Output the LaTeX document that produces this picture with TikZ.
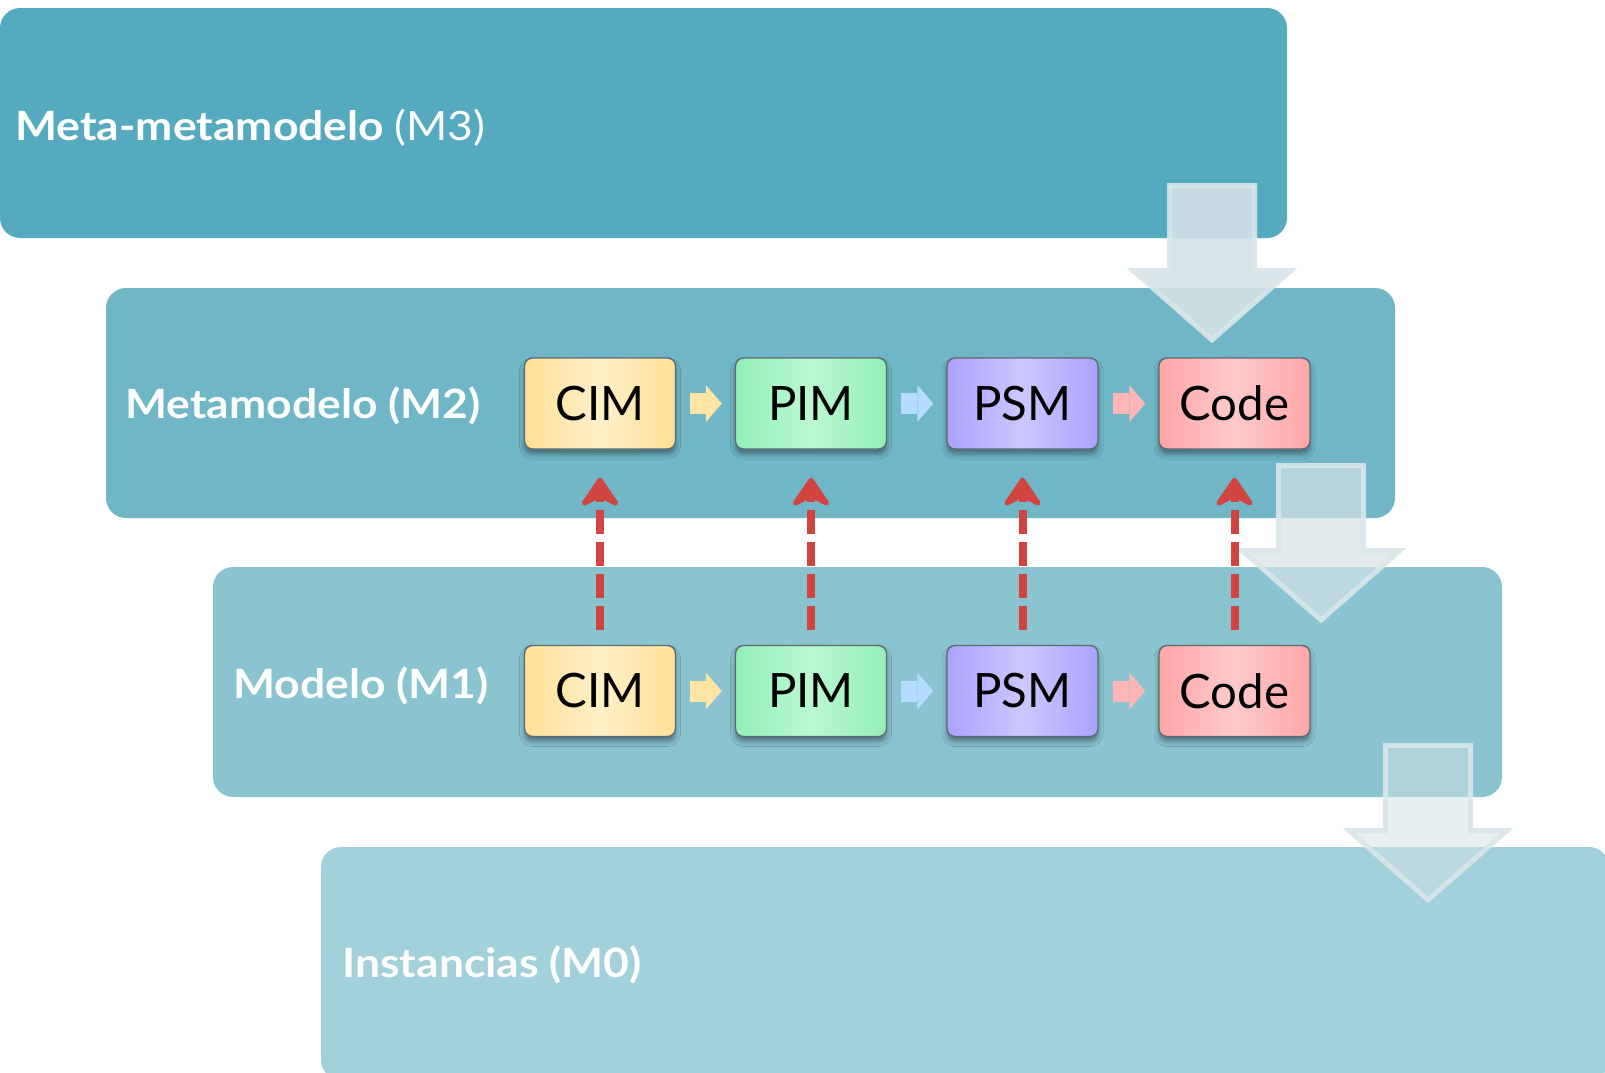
\documentclass[tikz,border=0pt]{standalone}
\usepackage{fontspec}
\setmainfont{Lato}
\newfontfamily\layerfont[FakeStretch=1.1]{Lato}
\usetikzlibrary{arrows.meta,shadows.blur}

% layer bands
\definecolor{m3}{HTML}{56AABF}
\definecolor{m2}{HTML}{6FB6C6}
\definecolor{m1}{HTML}{89C4D0}
\definecolor{m0}{HTML}{A2D0DB}
% instantiation arrows between layers
\definecolor{bigfill}{HTML}{D4E2E6}
\definecolor{bigedge}{HTML}{DAE6E9}
% model boxes
\definecolor{boxline}{HTML}{5E6A70}
\definecolor{cimE}{HTML}{FFE196}
\definecolor{cimC}{HTML}{FFF0C8}
\definecolor{pimE}{HTML}{93EFB6}
\definecolor{pimC}{HTML}{BAF9D1}
\definecolor{psmE}{HTML}{ACA2FF}
\definecolor{psmC}{HTML}{CDC7FF}
\definecolor{codeE}{HTML}{FFA6A6}
\definecolor{codeC}{HTML}{FFCACA}
% transformation arrows
\definecolor{flowY}{HTML}{FFE4A6}
\definecolor{flowB}{HTML}{B4DCFF}
\definecolor{flowR}{HTML}{FFB6B6}
% conformance arrows
\definecolor{dep}{HTML}{D2443F}

\tikzset{
  band/.style={rounded corners=10pt},
  lbl/.style={anchor=base west, text=white, inner sep=0pt,
    font=\layerfont\fontsize{20.2}{21}\selectfont\bfseries},
  model/.style={draw=boxline, line width=0.7pt, rounded corners=4pt,
    minimum width=75.5pt, minimum height=45.5pt, inner sep=0pt,
    font=\fontsize{23.7}{24}\selectfont,
    blur shadow={shadow xshift=0pt, shadow yshift=-2.5pt,
      shadow blur radius=2.5pt, shadow opacity=40}},
  cim/.style={model, left color=cimE, right color=cimE, middle color=cimC},
  pim/.style={model, left color=pimE, right color=pimE, middle color=pimC},
  psm/.style={model, left color=psmE, right color=psmE, middle color=psmC},
  code/.style={model, left color=codeE, right color=codeE, middle color=codeC},
  flow/.style={line width=10.5pt,
    -{Triangle[length=8pt, width=18.5pt, line width=0pt]},
    shorten <=7pt, shorten >=6.5pt},
  conform/.style={draw=dep, line width=4pt, dash pattern=on 12pt off 4pt,
    -{Stealth[length=17pt, width=23pt, inset=6pt, round, line width=2.5pt]},
    shorten <=7.5pt, shorten >=14pt},
  pics/bigarrow/.style={code={
    \path[fill=bigfill, fill opacity=#1, draw=bigedge, draw opacity=0.9,
      line width=2.5pt]
      (-42.5,2.5) -- (42.5,2.5) -- (42.5,87.5) -- (79,87.5) -- (0,157)
      -- (-79,87.5) -- (-42.5,87.5) -- cycle;}}
}

\begin{document}
\begin{tikzpicture}[x=0.5pt, y=-0.5pt]
\useasboundingbox (0,0) rectangle (1605,1072);
\clip (0,0) rectangle (1605,1072);

% layers
\fill[band, m3] (0,8) rectangle (1287,238);
\fill[band, m2] (106,288) rectangle (1395,518);
\fill[band, m1] (213,567) rectangle (1502,797);
\fill[band, m0] (321,847) rectangle (1609,1080);

\node[lbl] (lm3) at (15,140) {Meta-metamodelo {\mdseries(M3)}};
\node[lbl] (lm2) at (125,418) {Metamodelo (M2)};
\node[lbl] (lm1) at (233,698) {Modelo (M1)};
\node[lbl] (lm0) at (342,977) {Instancias (M0)};

% instantiation arrows
\pic (i3) at (1212,183) {bigarrow=0.9};
\pic (i2) at (1321,463) {bigarrow=0.7};
\pic (i1) at (1428,743) {bigarrow=0.53};

% metamodels (M2)
\node[cim]  (cimA)  at (600,403.5)    {CIM};
\node[pim]  (pimA)  at (811,403.5)    {PIM};
\node[psm]  (psmA)  at (1022.5,403.5) {PSM};
\node[code] (codeA) at (1234.5,403.5) {Code};

% models (M1)
\node[cim]  (cimB)  at (600,691)    {CIM};
\node[pim]  (pimB)  at (811,691)    {PIM};
\node[psm]  (psmB)  at (1022.5,691) {PSM};
\node[code] (codeB) at (1234.5,691) {Code};

% transformations
\draw[flow, draw=flowY] (cimA) -- (pimA);
\draw[flow, draw=flowB] (pimA) -- (psmA);
\draw[flow, draw=flowR] (psmA) -- (codeA);
\draw[flow, draw=flowY] (cimB) -- (pimB);
\draw[flow, draw=flowB] (pimB) -- (psmB);
\draw[flow, draw=flowR] (psmB) -- (codeB);

% conformance
\draw[conform] (cimB) -- (cimA);
\draw[conform] (pimB) -- (pimA);
\draw[conform] (psmB) -- (psmA);
\draw[conform] (codeB) -- (codeA);
\end{tikzpicture}
\end{document}
